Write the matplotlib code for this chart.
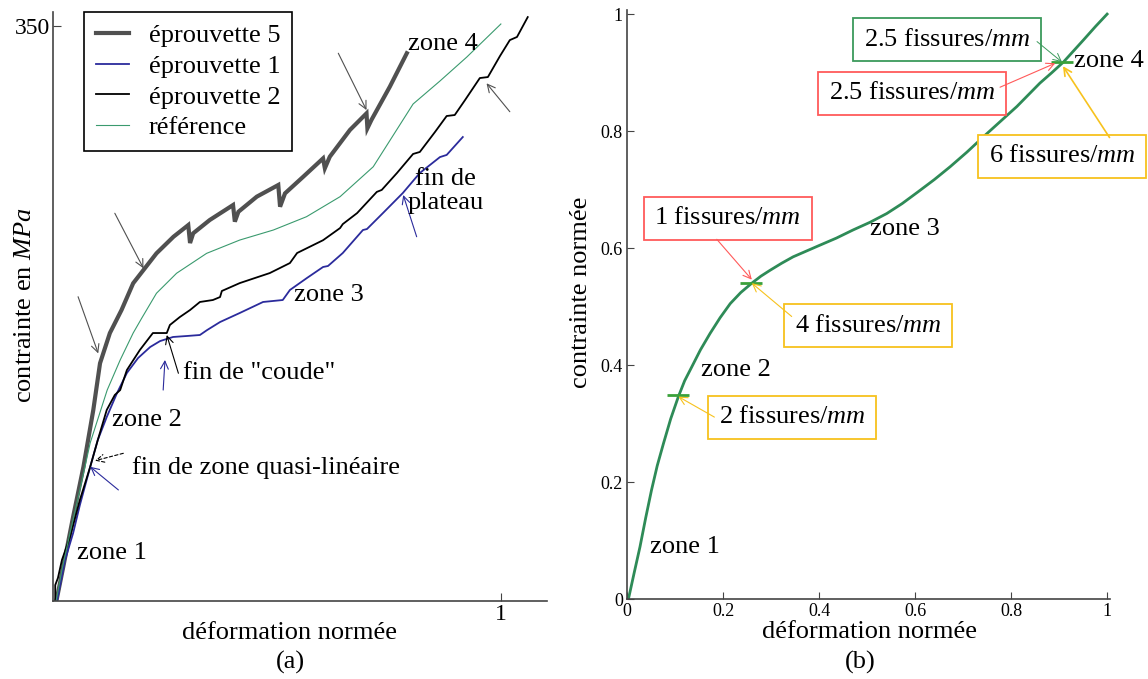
import matplotlib
matplotlib.use("Agg")
import matplotlib.pyplot as plt

plt.rcParams["font.family"] = ["Liberation Serif", "DejaVu Serif"]
plt.rcParams["mathtext.fontset"] = "custom"
plt.rcParams["mathtext.rm"] = "Liberation Serif"
plt.rcParams["mathtext.it"] = "Liberation Serif:italic"

# ---- panel (a): stress in MPa vs normalised strain ----
ep5_x = [0.008, 0.023, 0.045, 0.068, 0.090, 0.105, 0.127, 0.153, 0.179, 0.205, 0.231, 0.269,
         0.302, 0.306, 0.313, 0.350, 0.402, 0.406, 0.414, 0.455, 0.503, 0.507, 0.518, 0.559,
         0.603, 0.607, 0.618, 0.663, 0.700, 0.702, 0.711, 0.752, 0.790]
ep5_y = [0.6, 20.9, 51.3, 81.7, 116.3, 144.7, 163.1, 177.1, 193.4, 202.5, 211.6, 221.7,
         228.8, 217.9, 223.8, 231.9, 241.0, 230.9, 236.9, 246.1, 253.2, 240.0, 248.1, 258.3,
         269.4, 263.4, 270.4, 286.7, 296.8, 287.7, 292.8, 313.0, 333.4]

ep1_x = [0.009, 0.016, 0.027, 0.045, 0.060, 0.083, 0.100, 0.120, 0.143, 0.165, 0.190, 0.217,
         0.239, 0.268, 0.299, 0.328, 0.344, 0.373, 0.417, 0.469, 0.513, 0.529, 0.567, 0.603,
         0.614, 0.647, 0.692, 0.701, 0.737, 0.781, 0.819, 0.864, 0.879, 0.915]
ep1_y = [0.0, 9.7, 25.0, 41.4, 58.4, 81.6, 98.0, 112.0, 126.6, 138.8, 147.9, 154.6,
         158.2, 160.7, 161.3, 161.9, 164.9, 169.8, 175.3, 182.0, 183.2, 189.3, 196.6, 203.3,
         203.9, 211.8, 225.8, 226.4, 236.2, 248.3, 260.5, 270.2, 271.5, 282.4]

ep2_x = [0.005, 0.005, 0.011, 0.020, 0.038, 0.060, 0.083, 0.100, 0.120, 0.138, 0.150, 0.165,
         0.194, 0.223, 0.254, 0.261, 0.283, 0.306, 0.328, 0.357, 0.373, 0.377, 0.417, 0.451,
         0.484, 0.529, 0.545, 0.603, 0.641, 0.647, 0.679, 0.723, 0.734, 0.768, 0.804, 0.819,
         0.853, 0.879, 0.897, 0.920, 0.953, 0.971, 0.998, 1.020, 1.036, 1.060]
ep2_y = [0.0, 9.7, 14.0, 25.0, 39.0, 61.5, 81.6, 98.0, 116.3, 125.4, 128.4, 140.6,
         152.8, 163.1, 163.1, 168.0, 172.8, 177.1, 182.0, 183.2, 185.0, 188.7, 193.5, 196.6,
         199.6, 205.7, 211.8, 219.6, 227.0, 229.4, 236.1, 249.0, 250.2, 260.5, 272.1, 273.3,
         285.5, 295.2, 295.8, 304.9, 318.3, 318.9, 331.7, 341.4, 343.3, 355.4]

ref_x = [0.007, 0.020, 0.038, 0.060, 0.083, 0.121, 0.150, 0.179, 0.198, 0.231, 0.276, 0.343,
         0.417, 0.492, 0.566, 0.641, 0.715, 0.804, 0.864, 0.924, 1.000]
ref_y = [0.0, 18.9, 41.4, 67.6, 96.2, 128.4, 146.7, 163.1, 172.1, 187.3, 199.5, 211.6,
         219.7, 225.8, 233.9, 246.1, 264.3, 302.5, 316.5, 331.1, 351.2]

# ---- panel (b): normalised reference curve ----
norm_x = [0.003, 0.015, 0.027, 0.039, 0.051, 0.063, 0.076, 0.091, 0.107, 0.120, 0.135, 0.153,
          0.173, 0.194, 0.215, 0.237, 0.260, 0.279, 0.298, 0.322, 0.346, 0.374, 0.402, 0.436,
          0.471, 0.506, 0.541, 0.573, 0.606, 0.640, 0.673, 0.708, 0.742, 0.777, 0.812, 0.836,
          0.860, 0.885, 0.909, 0.930, 0.951, 0.976, 1.000]
norm_y = [0.0, 0.045, 0.089, 0.139, 0.186, 0.228, 0.266, 0.308, 0.346, 0.373, 0.397, 0.426,
          0.454, 0.481, 0.505, 0.524, 0.540, 0.552, 0.562, 0.574, 0.585, 0.595, 0.605, 0.617,
          0.631, 0.644, 0.659, 0.676, 0.696, 0.717, 0.739, 0.764, 0.790, 0.816, 0.842, 0.862,
          0.882, 0.900, 0.918, 0.937, 0.956, 0.979, 1.000]
crack_x = [0.107, 0.259, 0.906]
crack_y = [0.349, 0.540, 0.918]

GRAY, BLUE, GREEN_REF = "#505050", "#2b2b9c", "#3a9a6e"
RED, YEL, GRN = "#ff5a5a", "#f7c21e", "#3c9a5c"
FS = 19

fig = plt.figure(figsize=(11.48, 6.79), dpi=100)

# ================= (a) =================
ax = fig.add_axes([53 / 1148, 78 / 679, 494 / 1148, 589 / 679])
ax.plot(ep5_x, ep5_y, color=GRAY, lw=3, label="éprouvette 5", solid_joinstyle="miter")
ax.plot(ep1_x, ep1_y, color=BLUE, lw=1.3, label="éprouvette 1")
ax.plot(ep2_x, ep2_y, color="black", lw=1.3, label="éprouvette 2")
ax.plot(ref_x, ref_y, color=GREEN_REF, lw=0.8, label="référence")
ax.set_xlim(0, 1.103)
ax.set_ylim(0, 358.5)
for s in ["top", "right"]:
    ax.spines[s].set_visible(False)
for s in ["left", "bottom"]:
    ax.spines[s].set_color("#444444")
    ax.spines[s].set_linewidth(1.2)
ax.set_xticks([1])
ax.set_yticks([350])
ax.tick_params(direction="in", length=6, labelsize=17, pad=2, color="#444444")

leg = ax.legend(loc="upper left", bbox_to_anchor=(0.063, 1.0), fontsize=FS, frameon=True,
                fancybox=False, edgecolor="black", framealpha=1, handlelength=1.25,
                labelspacing=0.27, borderpad=0.45, handletextpad=0.75, borderaxespad=0.0)
leg.get_frame().set_linewidth(1.2)

def arrow(a, tip, start, color, lw=0.8, ls="-"):
    a.annotate("", xy=tip, xytext=start,
               arrowprops=dict(arrowstyle="->", color=color, lw=lw, linestyle=ls,
                               shrinkA=0, shrinkB=0, mutation_scale=14))

arrow(ax, (0.101, 150.7), (0.056, 185.2), GRAY)
arrow(ax, (0.202, 202.5), (0.138, 236.0), GRAY)
arrow(ax, (0.700, 298.8), (0.637, 333.4), GRAY)
arrow(ax, (0.968, 315.1), (1.020, 297.8), GRAY)
arrow(ax, (0.782, 247.1), (0.812, 221.7), BLUE)
arrow(ax, (0.254, 161.9), (0.280, 138.6), "black")
arrow(ax, (0.250, 146.7), (0.246, 128.4), BLUE)
arrow(ax, (0.094, 85.4), (0.157, 89.9), "black", ls=(0, (3, 2)))
arrow(ax, (0.083, 81.7), (0.146, 67.6), BLUE)

ax.text(0.871, 339, "zone 4", fontsize=FS, ha="center", va="center")
ax.text(0.877, 249.5, "fin de\nplateau", fontsize=FS, ha="center", va="center", linespacing=1.1)
ax.text(0.616, 186.2, "zone 3", fontsize=FS, ha="center", va="center")
ax.text(0.291, 138.8, 'fin de "coude"', fontsize=FS, ha="left", va="center")
ax.text(0.131, 110.2, "zone 2", fontsize=FS, ha="left", va="center")
ax.text(0.176, 81.0, "fin de zone quasi-linéaire", fontsize=FS, ha="left", va="center")
ax.text(0.053, 29.2, "zone 1", fontsize=FS, ha="left", va="center")

# ================= (b) =================
bx = fig.add_axes([627 / 1148, 80 / 679, 483 / 1148, 589 / 679])
bx.plot(norm_x, norm_y, color="#2e8b57", lw=2)
bx.plot(crack_x, crack_y, ls="none", marker="_", markersize=16, mew=2, color="#3aa13a")
bx.set_xlim(0, 1.006)
bx.set_ylim(0, 1.007)
for s in ["top", "right"]:
    bx.spines[s].set_visible(False)
for s in ["left", "bottom"]:
    bx.spines[s].set_color("#444444")
    bx.spines[s].set_linewidth(1.2)
bx.set_xticks([0, 0.2, 0.4, 0.6, 0.8, 1])
bx.set_xticklabels(["0", "0.2", "0.4", "0.6", "0.8", "1"])
bx.set_yticks([0, 0.2, 0.4, 0.6, 0.8, 1])
bx.set_yticklabels(["0", "0.2", "0.4", "0.6", "0.8", "1"])
bx.tick_params(direction="in", length=5, labelsize=13, pad=3, color="#444444")

lbl = r"fissures/$mm$"

def box(a, x, y, txt, color):
    a.text(x, y, txt, fontsize=FS, ha="center", va="center",
           bbox=dict(boxstyle="square,pad=0.4", fc="white", ec=color, lw=1.3))

box(bx, 0.210, 0.651, "1 " + lbl, RED)
box(bx, 0.502, 0.467, "4 " + lbl, YEL)
box(bx, 0.344, 0.311, "2 " + lbl, YEL)
box(bx, 0.667, 0.956, "2.5 " + lbl, GRN)
box(bx, 0.594, 0.865, "2.5 " + lbl, RED)
box(bx, 0.906, 0.757, "6 " + lbl, YEL)

arrow(bx, (0.260, 0.546), (0.187, 0.615), RED)
arrow(bx, (0.260, 0.540), (0.343, 0.483), YEL)
arrow(bx, (0.107, 0.346), (0.182, 0.311), YEL)
arrow(bx, (0.906, 0.918), (0.854, 0.953), GRN, lw=0.7)
arrow(bx, (0.892, 0.916), (0.777, 0.875), RED)
arrow(bx, (0.908, 0.911), (1.005, 0.789), YEL, lw=1.2)

bx.text(0.930, 0.920, "zone 4", fontsize=FS, ha="left", va="center")
bx.text(0.579, 0.632, "zone 3", fontsize=FS, ha="center", va="center")
bx.text(0.227, 0.391, "zone 2", fontsize=FS, ha="center", va="center")
bx.text(0.121, 0.089, "zone 1", fontsize=FS, ha="center", va="center")

# axis labels and panel captions (figure coordinates)
def ftext(px, py, s, **kw):
    fig.text(px / 1148, 1 - py / 679, s, fontsize=FS, ha="center", va="center", **kw)

ftext(25, 305, r"contrainte en $MPa$", rotation=90)
ftext(290, 633, "déformation normée")
ftext(290, 662, "(a)")
ftext(581, 292, "contrainte normée", rotation=90)
ftext(870, 632, "déformation normée")
ftext(860, 662, "(b)")

fig.savefig("out.png", dpi=100)
